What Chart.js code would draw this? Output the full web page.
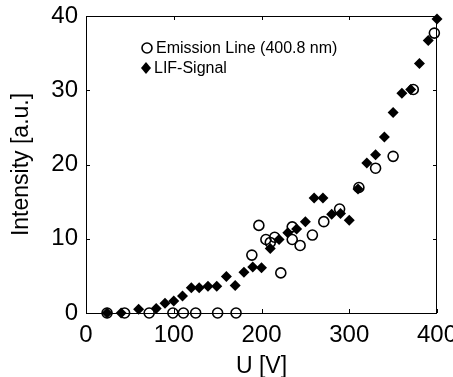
<!DOCTYPE html>
<html>
<head>
<meta charset="utf-8">
<script src="https://cdn.jsdelivr.net/npm/chart.js"></script>
<style>
  body { margin: 0; background: #fff; }
  canvas { display: block; }
</style>
</head>
<body>
<canvas id="chart" width="453" height="377"></canvas>
<script>
// values
const emU = [24, 44, 72, 99, 111, 125, 150, 171, 189, 197, 205, 210, 215, 222, 235, 235, 244, 258, 271, 289, 311, 330, 350, 373, 397];
const emI = [0, 0, 0, 0, 0, 0, 0, 0, 7.8, 11.8, 9.9, 9.5, 10.2, 5.4, 11.6, 9.9, 9.1, 10.5, 12.3, 14.0, 16.9, 19.5, 21.1, 30.1, 37.7];

const lifU = [24, 40, 60, 80, 90, 100, 110, 120, 129, 139, 149, 160, 170, 180, 190, 200, 210, 220, 230, 240, 250, 260, 270, 280, 290, 300, 310, 320, 330, 340, 350, 360, 370, 380, 390, 400];
const lifI = [0, 0, 0.5, 0.6, 1.3, 1.6, 2.3, 3.4, 3.4, 3.6, 3.6, 4.9, 3.7, 5.5, 6.2, 6.1, 8.7, 9.9, 10.8, 11.3, 12.3, 15.5, 15.5, 13.3, 13.4, 12.5, 16.7, 20.2, 21.3, 23.7, 27.0, 29.6, 30.1, 33.6, 36.7, 39.6];

const xTicks = [0, 100, 200, 300, 400];
const yTicks = [0, 10, 20, 30, 40];

const font = 'Liberation Sans, Arial, Helvetica, sans-serif';

const toPoints = (xs, ys) => xs.map((x, i) => ({x: x, y: ys[i]}));

// frame with inward ticks on all four sides + legend inside the plot
const framePlugin = {
  id: 'frame',
  afterDraw(chart) {
    const ctx = chart.ctx;
    const a = chart.chartArea;
    const xs = chart.scales.x, ys = chart.scales.y;
    ctx.save();
    ctx.strokeStyle = '#000';
    ctx.lineWidth = 1;
    ctx.strokeRect(a.left + 0.5, a.top + 0.5, a.right - a.left - 1, a.bottom - a.top);
    ctx.beginPath();
    xTicks.forEach(v => {
      const px = Math.round(xs.getPixelForValue(v)) + 0.5;
      ctx.moveTo(px, a.bottom); ctx.lineTo(px, a.bottom - 4);
      ctx.moveTo(px, a.top); ctx.lineTo(px, a.top + 4);
    });
    yTicks.forEach(v => {
      const py = Math.round(ys.getPixelForValue(v)) + 0.5;
      ctx.moveTo(a.left, py); ctx.lineTo(a.left + 4, py);
      ctx.moveTo(a.right, py); ctx.lineTo(a.right - 4, py);
    });
    ctx.stroke();

    // legend
    const lx = a.left + 61, ly = a.top + 32;
    ctx.lineWidth = 1.6;
    ctx.beginPath();
    ctx.arc(lx, ly, 5, 0, Math.PI * 2);
    ctx.stroke();
    ctx.fillStyle = '#000';
    ctx.beginPath();
    ctx.moveTo(lx - 1, ly + 14); ctx.lineTo(lx + 4, ly + 20);
    ctx.lineTo(lx - 1, ly + 26); ctx.lineTo(lx - 6, ly + 20);
    ctx.closePath();
    ctx.fill();
    ctx.font = '16px ' + font;
    ctx.textBaseline = 'middle';
    ctx.textAlign = 'left';
    ctx.fillText(chart.data.datasets[0].label, lx + 9, ly + 1);
    ctx.fillText(chart.data.datasets[1].label, lx + 7, ly + 21);
    ctx.restore();
  }
};

new Chart(document.querySelector('#chart').getContext('2d'), {
  type: 'scatter',
  data: {
    datasets: [
      {
        label: 'Emission Line (400.8 nm)',
        data: toPoints(emU, emI),
        pointStyle: 'circle',
        pointRadius: 5,
        pointBorderWidth: 1.6,
        borderColor: '#000',
        backgroundColor: 'rgba(0,0,0,0)',
        clip: false
      },
      {
        label: 'LIF-Signal',
        data: toPoints(lifU, lifI),
        pointStyle: 'rectRot',
        pointRadius: 5.5,
        pointBorderWidth: 0,
        borderColor: '#000',
        backgroundColor: '#000',
        clip: false
      }
    ]
  },
  options: {
    responsive: false,
    animation: false,
    layout: { padding: { top: 16, right: 16, left: 0, bottom: 0 } },
    plugins: { legend: { display: false }, tooltip: { enabled: false } },
    scales: {
      x: {
        type: 'linear',
        min: 0, max: 400,
        afterFit: s => { s.height = 64; s.paddingLeft = 0; s.paddingRight = 0; },
        afterBuildTicks: s => { s.ticks = xTicks.map(v => ({value: v})); },
        grid: { display: false, drawTicks: false },
        border: { display: false },
        ticks: { color: '#000', font: { family: font, size: 24 }, padding: 8 },
        title: {
          display: true, text: 'U [V]', color: '#000',
          font: { family: font, size: 23, lineHeight: 0.9 },
          padding: { top: 0, bottom: 0 }
        }
      },
      y: {
        min: 0, max: 40,
        afterFit: s => { s.width = 86; s.paddingTop = 0; s.paddingBottom = 0; },
        afterBuildTicks: s => { s.ticks = yTicks.map(v => ({value: v})); },
        grid: { display: false, drawTicks: false },
        border: { display: false },
        ticks: { color: '#000', font: { family: font, size: 24 }, padding: 8 },
        title: {
          display: true, text: 'Intensity [a.u.]', color: '#000',
          font: { family: font, size: 23, lineHeight: 1 },
          padding: { top: 10, bottom: 0 }
        }
      }
    }
  },
  plugins: [framePlugin]
});
</script>
</body>
</html>
